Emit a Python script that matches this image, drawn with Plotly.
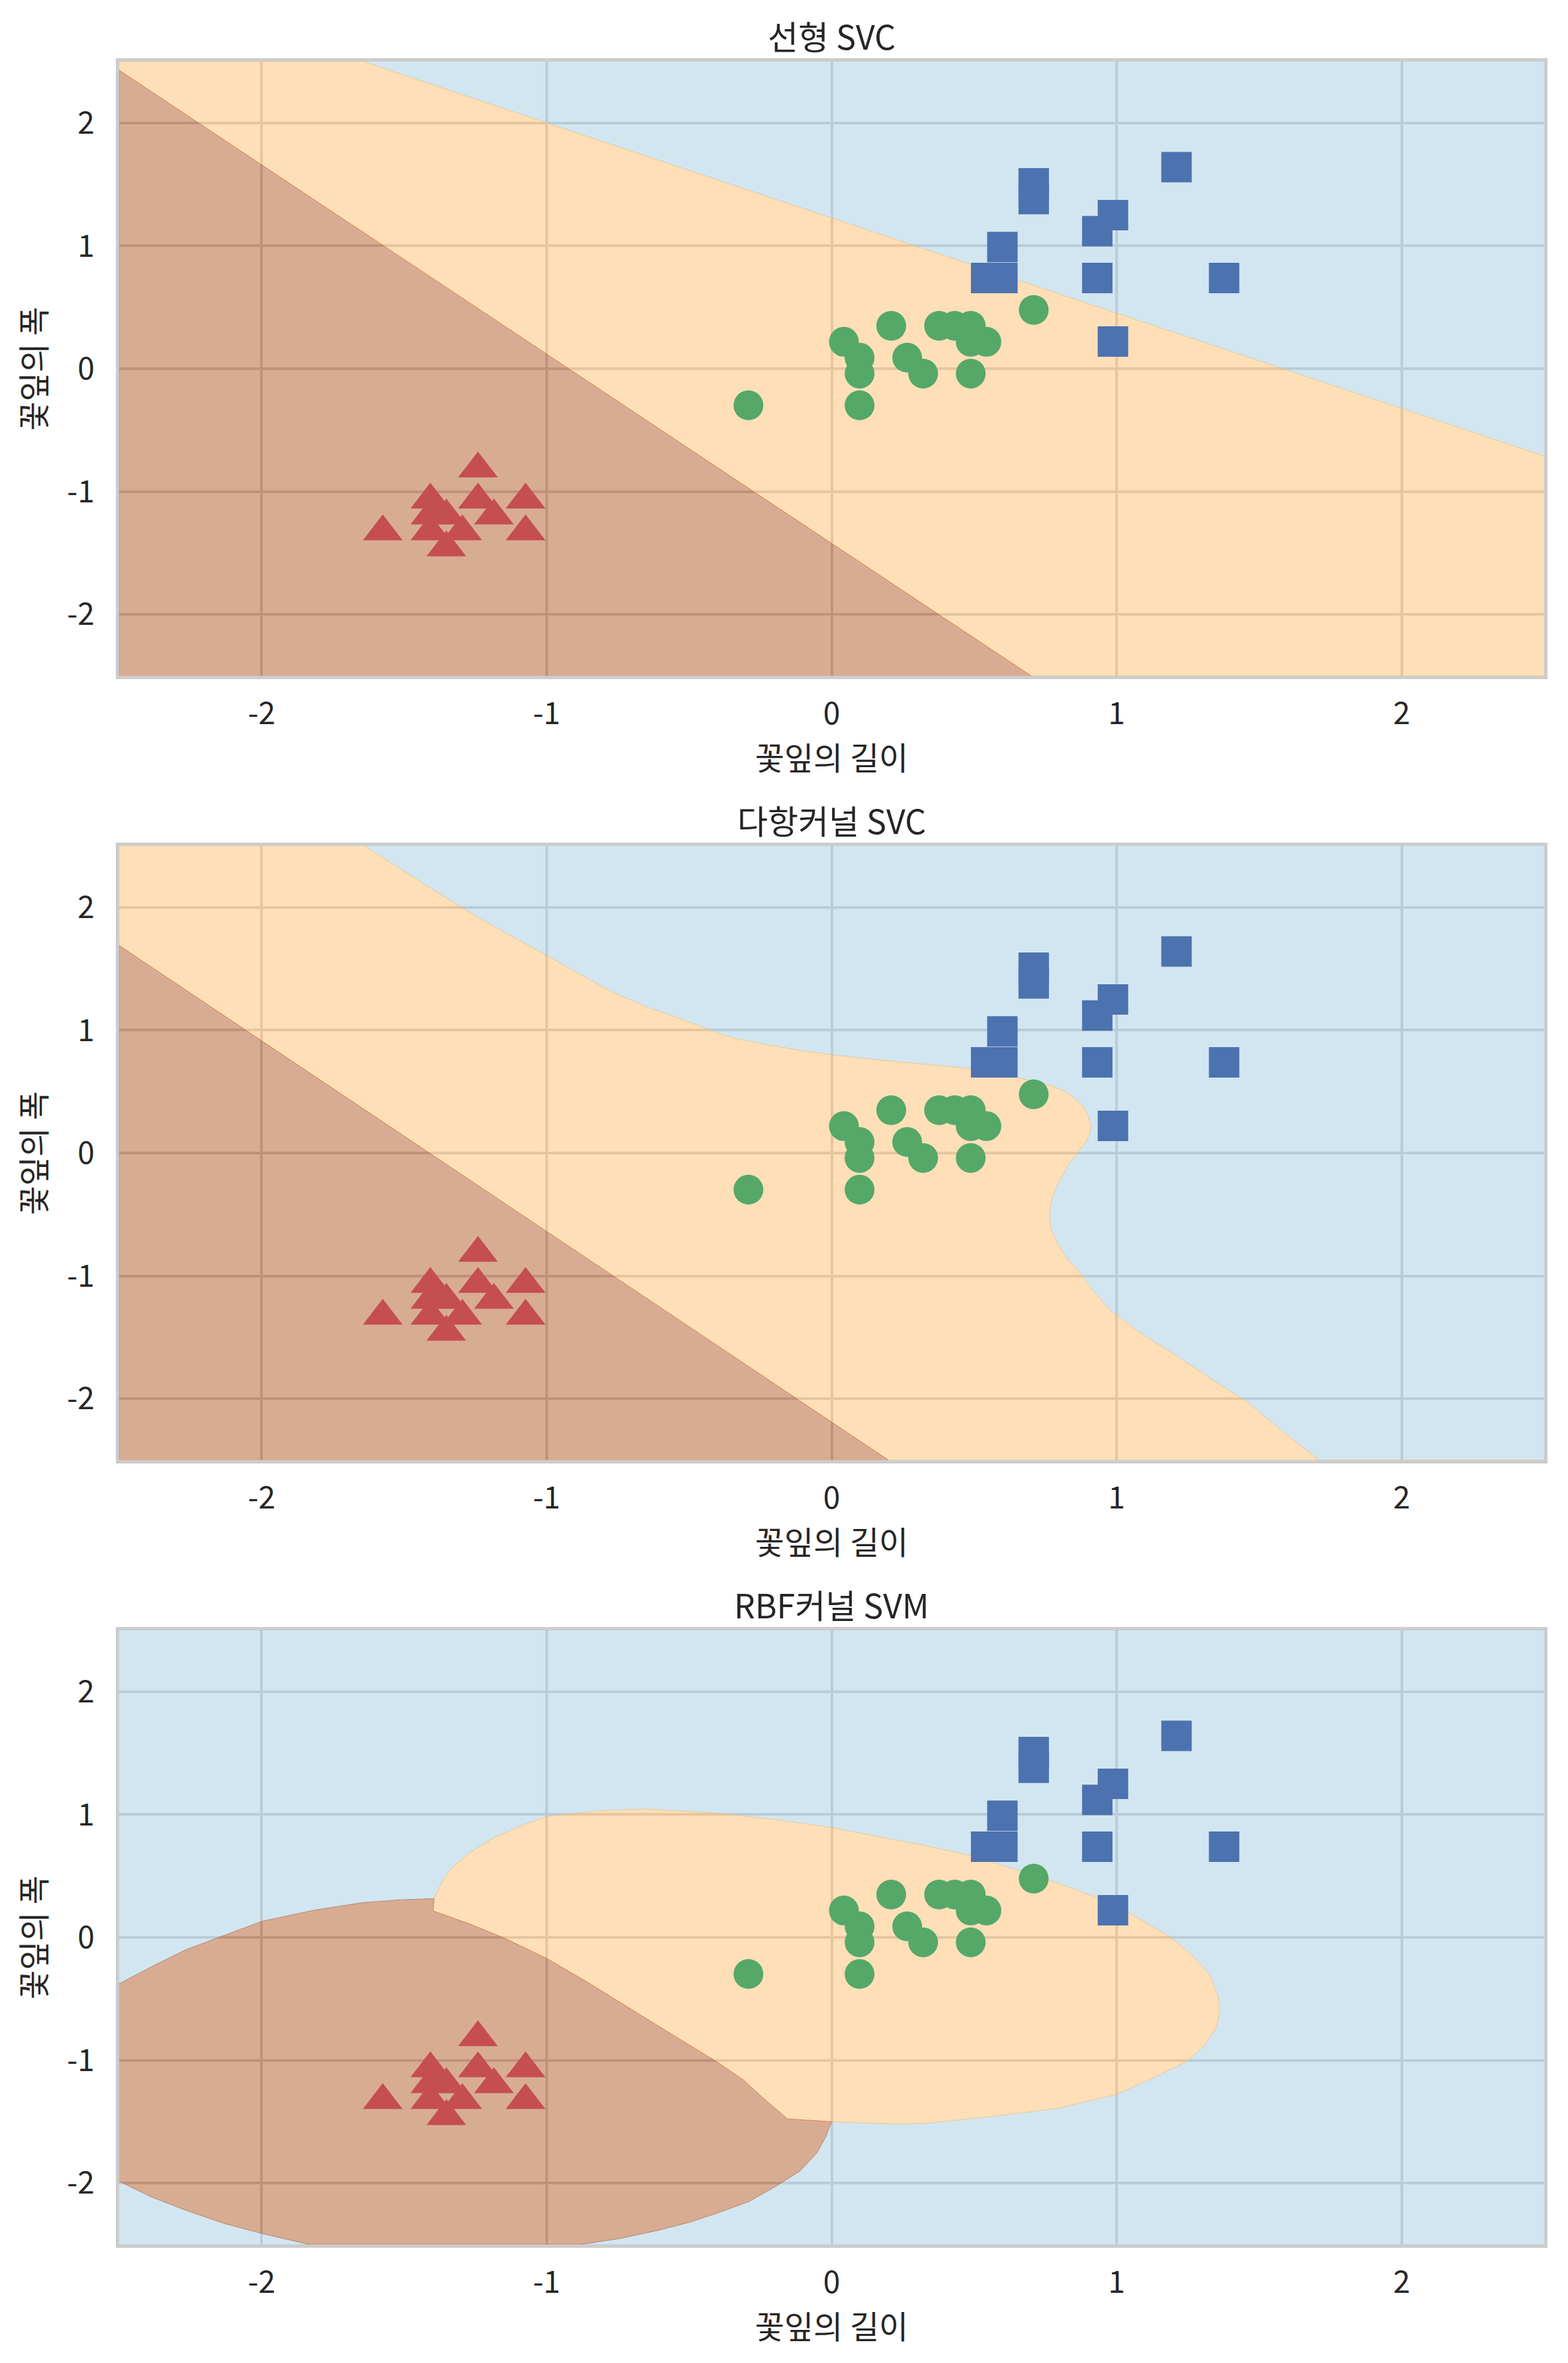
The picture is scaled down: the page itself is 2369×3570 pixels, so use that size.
import plotly.graph_objects as go
from plotly.subplots import make_subplots

# ---------------- text / ticks ----------------
titles = ["선형 SVC", "다항커널 SVC", "RBF커널 SVM"]
x_label = "꽃잎의 길이"
y_label = "꽃잎의 폭"
tick_vals = [-2, -1, 0, 1, 2]
tick_text = ["-2", "-1", "0", "1", "2"]
axis_min, axis_max = -2.5, 2.5

# ---------------- sample points (standardized petal length / width) ----------------
red_x = [-1.241, -1.408, -1.241, -1.074, -1.408, -1.352, -1.185, -1.575, -1.408, -1.296, -1.074, -1.352]
red_y = [-0.815, -1.068, -1.068, -1.068, -1.198, -1.198, -1.198, -1.327, -1.327, -1.327, -1.327, -1.457]

green_x = [0.709, 0.209, 0.377, 0.432, 0.488, 0.043, 0.488, 0.543, 0.098, 0.265, 0.098, 0.321, 0.488, -0.292, 0.098]
green_y = [0.478, 0.349, 0.349, 0.349, 0.349, 0.219, 0.219, 0.219, 0.090, 0.090, -0.040, -0.040, -0.040, -0.298, -0.298]

blue_x = [0.709, 0.709, 1.210, 0.987, 0.932, 0.599, 0.542, 0.599, 0.932, 1.377, 0.987]
blue_y = [1.509, 1.380, 1.640, 1.250, 1.120, 0.990, 0.738, 0.738, 0.738, 0.738, 0.221]

# ---------------- decision boundaries ----------------
# linear SVC
lin_ro_x = [-2.5, 0.70]
lin_ro_y = [2.43, -2.5]
lin_ob_x = [-1.643, 2.5]
lin_ob_y = [2.5, -0.71]

# polynomial kernel SVC
poly_ro_x = [-2.5, 0.20]
poly_ro_y = [1.69, -2.5]
poly_ob_x = [-1.64, -1.47, -1.30, -1.15, -1.00, -0.88, -0.76, -0.65, -0.55, -0.47, -0.405, -0.33,
             -0.245, -0.12, 0.0, 0.20, 0.35, 0.48, 0.58, 0.66, 0.72, 0.77, 0.82, 0.856, 0.885,
             0.90, 0.91, 0.905, 0.89, 0.865, 0.832, 0.808, 0.788, 0.775, 0.766, 0.764, 0.770,
             0.785, 0.806, 0.83, 0.859, 0.91, 0.974, 1.035, 1.099, 1.19, 1.277, 1.365, 1.454,
             1.58, 1.71]
poly_ob_y = [2.5, 2.25, 2.00, 1.80, 1.61, 1.45, 1.30, 1.19, 1.11, 1.04, 0.98, 0.93,
             0.89, 0.84, 0.80, 0.75, 0.72, 0.69, 0.66, 0.61, 0.58, 0.55, 0.50, 0.44, 0.37,
             0.30, 0.22, 0.15, 0.08, 0.01, -0.09, -0.19, -0.28, -0.36, -0.45, -0.53, -0.62,
             -0.70, -0.79, -0.87, -0.94, -1.10, -1.27, -1.38, -1.49, -1.62, -1.755, -1.89, -2.02,
             -2.26, -2.5]

# RBF kernel SVM
rbf_red_top_x = [-2.5, -2.38, -2.268, -2.13, -2.0, -1.82, -1.646, -1.52, -1.395]
rbf_red_top_y = [-0.377, -0.23, -0.102, 0.02, 0.131, 0.22, 0.283, 0.305, 0.316]
rbf_red_orange_x = [-1.395, -1.398, -1.27, -1.149, -1.0, -0.86, -0.714, -0.56, -0.404, -0.31, -0.238, -0.155, 0.0]
rbf_red_orange_y = [0.316, 0.215, 0.11, -0.005, -0.171, -0.36, -0.570, -0.79, -1.010, -1.16, -1.312, -1.477, -1.50]
rbf_red_right_x = [0.0, -0.02, -0.051, -0.11, -0.196, -0.29, -0.404, -0.50, -0.610, -0.74, -0.880]
rbf_red_right_y = [-1.50, -1.62, -1.752, -1.90, -2.027, -2.15, -2.247, -2.32, -2.385, -2.45, -2.5]
rbf_red_bottom_x = [-1.833, -2.0, -2.13, -2.268, -2.39, -2.5]
rbf_red_bottom_y = [-2.5, -2.41, -2.33, -2.22, -2.11, -1.986]
rbf_orange_x = [-1.395, -1.37, -1.336, -1.27, -1.19, -1.10, -1.0, -0.818, -0.652, -0.404, -0.20, 0.0,
                0.322, 0.489, 0.659, 0.767, 0.937, 1.042, 1.185, 1.262, 1.324, 1.355, 1.361,
                1.347, 1.309, 1.247, 1.107, 0.999, 0.798, 0.566, 0.334, 0.218, 0.0]
rbf_orange_y = [0.316, 0.44, 0.558, 0.69, 0.805, 0.90, 0.984, 1.031, 1.045, 1.012, 0.96, 0.894,
                0.75, 0.666, 0.543, 0.465, 0.320, 0.202, 0.007, -0.139, -0.295, -0.473, -0.608,
                -0.742, -0.876, -1.010, -1.167, -1.278, -1.390, -1.457, -1.513, -1.519, -1.50]

# ---------------- styling ----------------
region_red = "rgba(177,89,40,0.5)"
region_orange = "rgba(253,191,111,0.5)"
region_blue = "rgba(166,206,227,0.5)"
marker_red = "#c44e52"
marker_green = "#55a868"
marker_blue = "#4c72b0"
grid_color = "#cccccc"
text_color = "#262626"
font_family = "Noto Sans CJK KR, Noto Sans, sans-serif"


def join(*segs):
    xs, ys = [], []
    for sx, sy in segs:
        xs += list(sx)
        ys += list(sy)
    return xs, ys


def rev(x, y):
    return list(reversed(x)), list(reversed(y))


def region(xs, ys, color):
    return go.Scatter(x=xs, y=ys, mode="lines", fill="toself", fillcolor=color,
                      line=dict(width=1, color=color), hoverinfo="skip", showlegend=False)


def straight_regions(ro_x, ro_y, ob_x, ob_y):
    lo, hi = axis_min, axis_max
    red = join(([lo], [lo]), (ro_x, ro_y))
    orange = join(([lo, lo], [ro_y[0], hi]), (ob_x, ob_y), ([hi], [lo]), rev(ro_x, ro_y))
    if ob_x[-1] >= hi:      # boundary leaves through the right edge
        blue = join((ob_x, ob_y), ([hi], [hi]))
    else:                   # boundary leaves through the bottom edge
        blue = join((ob_x, ob_y), ([hi, hi], [lo, hi]))
    return red, orange, blue


fig = make_subplots(rows=3, cols=1, vertical_spacing=257 / 3298)

regions_per_plot = [
    straight_regions(lin_ro_x, lin_ro_y, lin_ob_x, lin_ob_y),
    straight_regions(poly_ro_x, poly_ro_y, poly_ob_x, poly_ob_y),
]

lo, hi = axis_min, axis_max
rbf_red = join((rbf_red_top_x, rbf_red_top_y),
               (rbf_red_orange_x[1:], rbf_red_orange_y[1:]),
               (rbf_red_right_x[1:], rbf_red_right_y[1:]),
               (rbf_red_bottom_x, rbf_red_bottom_y))
ro_rx, ro_ry = rev(rbf_red_orange_x, rbf_red_orange_y)
rbf_orange = join((rbf_orange_x, rbf_orange_y), (ro_rx[1:], ro_ry[1:]))
rr_x, rr_y = rev(rbf_red_right_x, rbf_red_right_y)
ro2_x, ro2_y = rev(rbf_orange_x, rbf_orange_y)
rt_x, rt_y = rev(rbf_red_top_x, rbf_red_top_y)
blue_main = join(([lo, hi, hi], [hi, hi, lo]), (rr_x, rr_y), (ro2_x[1:], ro2_y[1:]), (rt_x[1:], rt_y[1:]))
blue_corner = join(([lo], [lo]), (rbf_red_bottom_x, rbf_red_bottom_y))
rbf_blue = (blue_main[0] + [None] + blue_corner[0], blue_main[1] + [None] + blue_corner[1])
regions_per_plot.append((rbf_red, rbf_orange, rbf_blue))

for i, (red, orange, blue) in enumerate(regions_per_plot, start=1):
    fig.add_trace(region(*blue, region_blue), row=i, col=1)
    fig.add_trace(region(*orange, region_orange), row=i, col=1)
    fig.add_trace(region(*red, region_red), row=i, col=1)
    fig.add_trace(go.Scatter(x=red_x, y=red_y, mode="markers", showlegend=False,
                             marker=dict(symbol="triangle-up", size=52, color=marker_red,
                                         line=dict(width=0))), row=i, col=1)
    fig.add_trace(go.Scatter(x=green_x, y=green_y, mode="markers", showlegend=False,
                             marker=dict(symbol="circle", size=45, color=marker_green,
                                         line=dict(width=0))), row=i, col=1)
    fig.add_trace(go.Scatter(x=blue_x, y=blue_y, mode="markers", showlegend=False,
                             marker=dict(symbol="square", size=46, color=marker_blue,
                                         line=dict(width=0))), row=i, col=1)

axis_common = dict(range=[axis_min, axis_max], tickmode="array", tickvals=tick_vals,
                   ticktext=tick_text, showgrid=True, gridcolor=grid_color, gridwidth=4,
                   zeroline=False, showline=True, mirror=True, linecolor=grid_color,
                   linewidth=5, ticks="", tickfont=dict(size=46, color=text_color, family=font_family))

for i in range(1, 4):
    fig.update_xaxes(axis_common, row=i, col=1, ticklabelstandoff=13,
                     title=dict(text=x_label, standoff=12,
                                font=dict(size=48, color=text_color, family=font_family)))
    fig.update_yaxes(axis_common, row=i, col=1, ticklabelstandoff=23,
                     title=dict(text=y_label, standoff=18,
                                font=dict(size=48, color=text_color, family=font_family)))

# subplot titles
for i, t in enumerate(titles, start=1):
    yaxis = fig.layout["yaxis" if i == 1 else f"yaxis{i}"]
    fig.add_annotation(text=t, x=0.5, xref="paper", y=yaxis.domain[1], yref="paper",
                       xanchor="center", yanchor="middle", yshift=40, showarrow=False,
                       font=dict(size=50, color=text_color, family=font_family))

# page body adds an 8px margin, so the figure is sized to fit inside the window
fig.update_layout(width=2353, height=3554, plot_bgcolor="white", paper_bgcolor="white",
                  margin=dict(l=172, r=28, t=85, b=171), font=dict(family=font_family, color=text_color))

fig.write_html("out.html")
